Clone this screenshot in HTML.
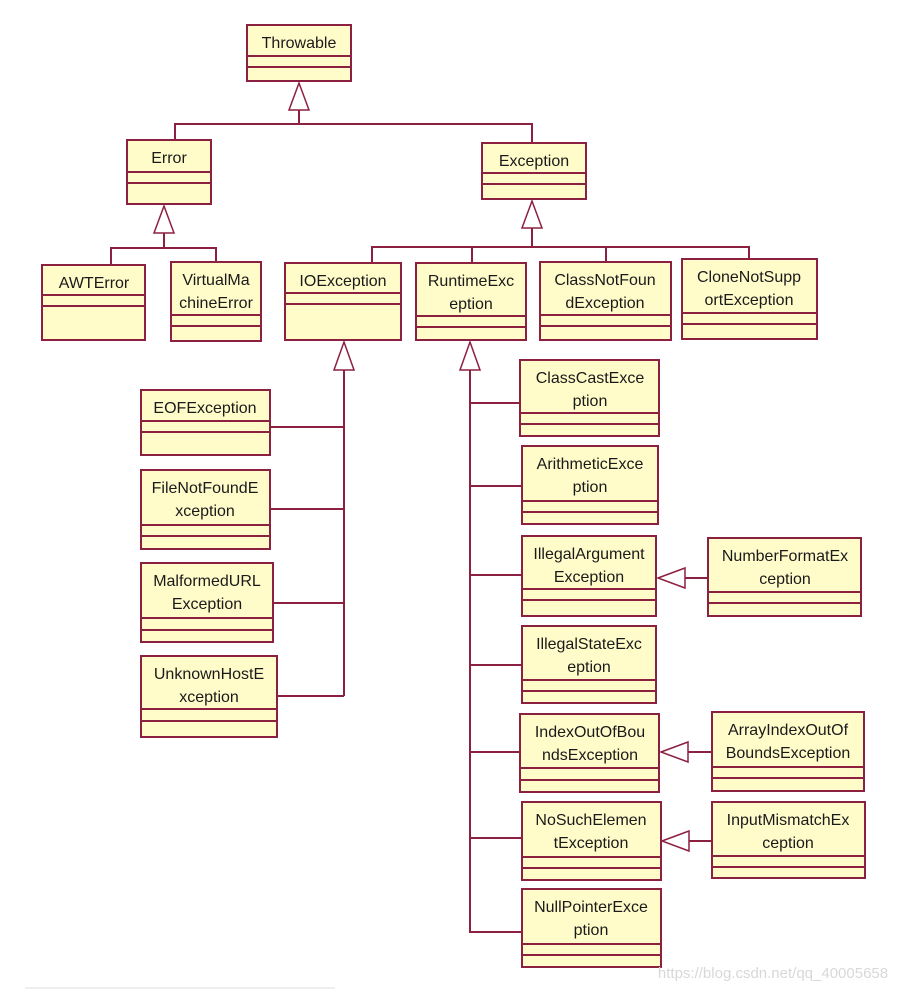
<!DOCTYPE html>
<html><head><meta charset="utf-8"><style>
html,body{margin:0;padding:0;background:#fff;}
svg{display:block;}
text{font-family:"Liberation Sans",Arial,sans-serif;font-size:16px;fill:#1a1a1a;text-anchor:middle;}
.b{fill:#fffcca;stroke:#8c2040;stroke-width:2;}
.l{stroke:#8c2040;stroke-width:2;fill:none;}
.t{fill:#fff;stroke:#8c2040;stroke-width:1.5;}
</style></head><body>
<svg width="905" height="990" viewBox="0 0 905 990">
<!-- connectors -->
<g class="l">
<polyline points="299,110 299,124"/><polyline points="175,140 175,124 532,124 532,143"/>
<polyline points="164,233 164,248"/><polyline points="111,265 111,248 216,248 216,262"/>
<polyline points="532,228 532,247"/><polyline points="372,263 372,247 749,247 749,259"/>
<line x1="472" y1="247" x2="472" y2="263"/><line x1="606" y1="247" x2="606" y2="262"/>
<polyline points="344,370 344,696"/>
<line x1="270" y1="427" x2="344" y2="427"/><line x1="270" y1="509" x2="344" y2="509"/>
<line x1="273" y1="603" x2="344" y2="603"/><line x1="277" y1="696" x2="344" y2="696"/>
<polyline points="470,370 470,932 522,932"/>
<line x1="470" y1="403" x2="520" y2="403"/><line x1="470" y1="486" x2="522" y2="486"/>
<line x1="470" y1="575" x2="522" y2="575"/><line x1="470" y1="665" x2="522" y2="665"/>
<line x1="470" y1="752" x2="520" y2="752"/><line x1="470" y1="838" x2="522" y2="838"/>
<line x1="685" y1="578" x2="708" y2="578"/><line x1="688" y1="752" x2="712" y2="752"/>
<line x1="689" y1="841" x2="712" y2="841"/>
</g>
<!-- triangles -->
<g class="t">
<polygon points="299,83 289,110 309,110"/>
<polygon points="164,206 154,233 174,233"/>
<polygon points="532,201 522,228 542,228"/>
<polygon points="344,342 334,370 354,370"/>
<polygon points="470,342 460,370 480,370"/>
<polygon points="658,578 685,568 685,588"/>
<polygon points="661,752 688,742 688,762"/>
<polygon points="662,841 689,831 689,851"/>
</g>
<!-- boxes -->
<g>
<rect class="b" x="247" y="25" width="104" height="56"/><line class="l" x1="247" y1="56" x2="351" y2="56"/><line class="l" x1="247" y1="67" x2="351" y2="67"/><text x="299" y="48">Throwable</text>

<rect class="b" x="127" y="140" width="84" height="64"/><line class="l" x1="127" y1="172" x2="211" y2="172"/><line class="l" x1="127" y1="183" x2="211" y2="183"/><text x="169" y="163">Error</text>

<rect class="b" x="482" y="143" width="104" height="56"/><line class="l" x1="482" y1="173" x2="586" y2="173"/><line class="l" x1="482" y1="184" x2="586" y2="184"/><text x="534" y="166">Exception</text>

<rect class="b" x="42" y="265" width="103" height="75"/><line class="l" x1="42" y1="295" x2="145" y2="295"/><line class="l" x1="42" y1="306" x2="145" y2="306"/><text x="94" y="288">AWTError</text>

<rect class="b" x="171" y="262" width="90" height="79"/><line class="l" x1="171" y1="315" x2="261" y2="315"/><line class="l" x1="171" y1="326" x2="261" y2="326"/><text x="216" y="285">VirtualMa</text><text x="216" y="308">chineError</text>

<rect class="b" x="285" y="263" width="116" height="77"/><line class="l" x1="285" y1="293" x2="401" y2="293"/><line class="l" x1="285" y1="304" x2="401" y2="304"/><text x="343" y="286">IOException</text>

<rect class="b" x="416" y="263" width="110" height="77"/><line class="l" x1="416" y1="316" x2="526" y2="316"/><line class="l" x1="416" y1="327" x2="526" y2="327"/><text x="471" y="286">RuntimeExc</text><text x="471" y="309">eption</text>

<rect class="b" x="540" y="262" width="131" height="78"/><line class="l" x1="540" y1="315" x2="671" y2="315"/><line class="l" x1="540" y1="326" x2="671" y2="326"/><text x="605" y="285">ClassNotFoun</text><text x="605" y="308">dException</text>

<rect class="b" x="682" y="259" width="135" height="80"/><line class="l" x1="682" y1="313" x2="817" y2="313"/><line class="l" x1="682" y1="324" x2="817" y2="324"/><text x="749" y="282">CloneNotSupp</text><text x="749" y="305">ortException</text>

<rect class="b" x="141" y="390" width="129" height="65"/><line class="l" x1="141" y1="421" x2="270" y2="421"/><line class="l" x1="141" y1="432" x2="270" y2="432"/><text x="205" y="413">EOFException</text>

<rect class="b" x="141" y="470" width="129" height="79"/><line class="l" x1="141" y1="525" x2="270" y2="525"/><line class="l" x1="141" y1="536" x2="270" y2="536"/><text x="205" y="493">FileNotFoundE</text><text x="205" y="516">xception</text>

<rect class="b" x="141" y="563" width="132" height="79"/><line class="l" x1="141" y1="618" x2="273" y2="618"/><line class="l" x1="141" y1="630" x2="273" y2="630"/><text x="207" y="586">MalformedURL</text><text x="207" y="609">Exception</text>

<rect class="b" x="141" y="656" width="136" height="81"/><line class="l" x1="141" y1="709" x2="277" y2="709"/><line class="l" x1="141" y1="721" x2="277" y2="721"/><text x="209" y="679">UnknownHostE</text><text x="209" y="702">xception</text>

<rect class="b" x="520" y="360" width="139" height="76"/><line class="l" x1="520" y1="413" x2="659" y2="413"/><line class="l" x1="520" y1="424" x2="659" y2="424"/><text x="590" y="383">ClassCastExce</text><text x="590" y="406">ption</text>

<rect class="b" x="522" y="446" width="136" height="78"/><line class="l" x1="522" y1="501" x2="658" y2="501"/><line class="l" x1="522" y1="512" x2="658" y2="512"/><text x="590" y="469">ArithmeticExce</text><text x="590" y="492">ption</text>

<rect class="b" x="522" y="536" width="134" height="80"/><line class="l" x1="522" y1="589" x2="656" y2="589"/><line class="l" x1="522" y1="600" x2="656" y2="600"/><text x="589" y="559">IllegalArgument</text><text x="589" y="582">Exception</text>

<rect class="b" x="522" y="626" width="134" height="77"/><line class="l" x1="522" y1="680" x2="656" y2="680"/><line class="l" x1="522" y1="691" x2="656" y2="691"/><text x="589" y="649">IllegalStateExc</text><text x="589" y="672">eption</text>

<rect class="b" x="520" y="714" width="139" height="78"/><line class="l" x1="520" y1="768" x2="659" y2="768"/><line class="l" x1="520" y1="780" x2="659" y2="780"/><text x="590" y="737">IndexOutOfBou</text><text x="590" y="760">ndsException</text>

<rect class="b" x="522" y="802" width="139" height="78"/><line class="l" x1="522" y1="857" x2="661" y2="857"/><line class="l" x1="522" y1="868" x2="661" y2="868"/><text x="591" y="825">NoSuchElemen</text><text x="591" y="848">tException</text>

<rect class="b" x="522" y="889" width="139" height="78"/><line class="l" x1="522" y1="944" x2="661" y2="944"/><line class="l" x1="522" y1="955" x2="661" y2="955"/><text x="591" y="912">NullPointerExce</text><text x="591" y="935">ption</text>

<rect class="b" x="708" y="538" width="153" height="78"/><line class="l" x1="708" y1="592" x2="861" y2="592"/><line class="l" x1="708" y1="603" x2="861" y2="603"/><text x="785" y="561">NumberFormatEx</text><text x="785" y="584">ception</text>

<rect class="b" x="712" y="712" width="152" height="79"/><line class="l" x1="712" y1="767" x2="864" y2="767"/><line class="l" x1="712" y1="778" x2="864" y2="778"/><text x="788" y="735">ArrayIndexOutOf</text><text x="788" y="758">BoundsException</text>

<rect class="b" x="712" y="802" width="153" height="76"/><line class="l" x1="712" y1="856" x2="865" y2="856"/><line class="l" x1="712" y1="867" x2="865" y2="867"/><text x="788" y="825">InputMismatchEx</text><text x="788" y="848">ception</text>
</g>
<text x="773" y="978" style="fill:#d8d8d8;font-size:15px;">https://blog.csdn.net/qq_40005658</text>
<line x1="25" y1="988" x2="335" y2="988" stroke="#eee" stroke-width="2"/>
</svg>
</body></html>
